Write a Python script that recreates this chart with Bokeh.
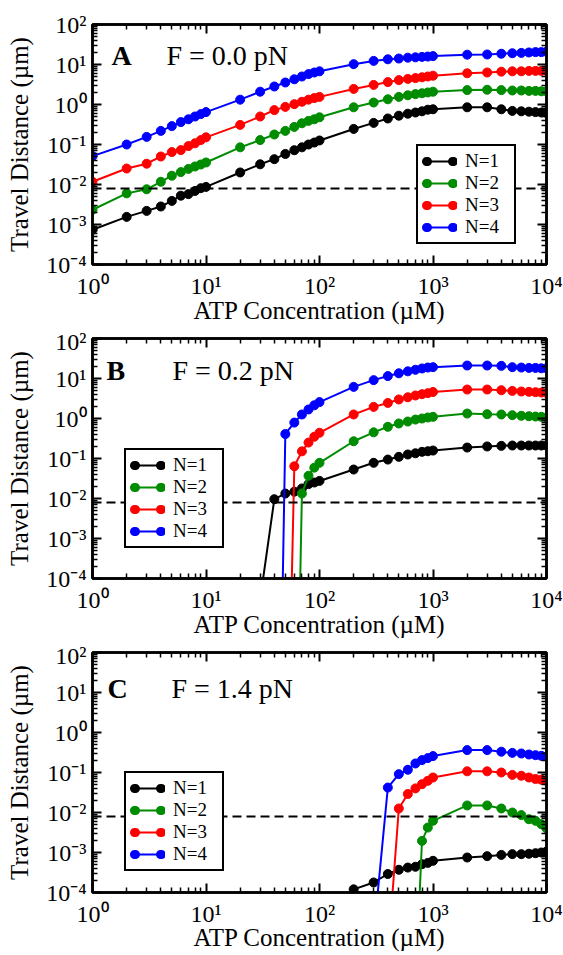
from bokeh.plotting import figure
from bokeh.models import LogAxis, FixedTicker, Span, Label, Legend, LegendItem, Range1d
from bokeh.layouts import column
from bokeh.embed import file_html
from bokeh.resources import INLINE

# ATP concentrations (uM)
ATP = [1, 2, 3, 4, 5, 6, 7, 8, 9, 10,
       20, 30, 40, 50, 60, 70, 80, 90, 100,
       200, 300, 400, 500, 600, 700, 800, 900, 1000,
       2000, 3000, 4000, 5000, 6000, 7000, 8000, 9000, 10000]

SERIES_LABELS = ["N=1", "N=2", "N=3", "N=4"]
SERIES_COLORS = ["#000000", "#008c00", "#ff0000", "#0000ff"]

# Panel A, F = 0.0 pN (travel distance, um)
A_N1 = [7.4e-4, 1.55e-3, 2.19e-3, 2.82e-3, 3.89e-3, 5.25e-3, 5.75e-3, 6.9e-3, 8.1e-3, 8.7e-3,
        0.020, 0.032, 0.043, 0.058, 0.072, 0.085, 0.100, 0.112, 0.126,
        0.245, 0.347, 0.447, 0.525, 0.589, 0.631, 0.676, 0.741, 0.759,
        0.851, 0.851, 0.759, 0.692, 0.676, 0.661, 0.646, 0.631, 0.617]
A_N2 = [2.34e-3, 6.0e-3, 7.6e-3, 0.0117, 0.0166, 0.0204, 0.0245, 0.0282, 0.0316, 0.0355,
        0.085, 0.129, 0.178, 0.219, 0.275, 0.339, 0.389, 0.427, 0.479,
        0.851, 1.12, 1.35, 1.55, 1.70, 1.82, 1.91, 2.00, 2.09,
        2.29, 2.34, 2.29, 2.24, 2.24, 2.19, 2.19, 2.14, 2.14]
A_N3 = [0.0117, 0.0251, 0.0331, 0.0501, 0.0646, 0.0724, 0.0912, 0.107, 0.129, 0.151,
        0.309, 0.501, 0.724, 0.871, 1.02, 1.17, 1.32, 1.45, 1.55,
        2.45, 3.09, 3.63, 4.07, 4.37, 4.57, 4.79, 5.01, 5.25,
        6.03, 6.31, 6.61, 6.76, 6.76, 6.92, 6.92, 6.92, 6.92]
A_N4 = [0.0513, 0.100, 0.155, 0.219, 0.288, 0.363, 0.427, 0.501, 0.575, 0.646,
        1.32, 2.09, 2.82, 3.55, 4.27, 5.01, 5.75, 6.31, 6.76,
        10.2, 12.3, 13.5, 14.1, 14.8, 15.1, 15.5, 15.8, 16.2,
        17.6, 17.8, 18.6, 19.1, 19.5, 20.0, 20.4, 20.4, 20.9]
A_START = [1, 1, 1, 1]

# Panel B, F = 0.2 pN (first value of each series lies below the axis)
B_N1 = [3e-5, 0.0096, 0.0133, 0.0148, 0.0178, 0.0229, 0.0251, 0.0275,
        0.053, 0.078, 0.094, 0.110, 0.126, 0.135, 0.147, 0.152, 0.158,
        0.188, 0.200, 0.207, 0.211, 0.211, 0.211, 0.211, 0.211, 0.211]
B_N2 = [3e-12, 0.0133, 0.037, 0.059, 0.078,
        0.27, 0.45, 0.62, 0.75, 0.84, 0.94, 1.00, 1.06, 1.10,
        1.33, 1.28, 1.26, 1.21, 1.17, 1.14, 1.12, 1.10, 1.06]
B_N3 = [6e-12, 0.064, 0.151, 0.25, 0.35, 0.44,
        1.26, 1.95, 2.45, 2.99, 3.39, 3.76, 4.06, 4.30, 4.60,
        5.30, 5.30, 5.10, 4.90, 4.73, 4.64, 4.55, 4.46, 4.37]
B_N4 = [1e-16, 0.41, 0.79, 1.26, 1.68, 2.14, 2.57,
        6.17, 9.1, 11.5, 13.5, 15.1, 16.5, 17.8, 18.8, 19.2,
        21.1, 21.1, 20.7, 19.2, 18.8, 18.4, 18.4, 18.0, 18.0]
B_START = [30, 60, 50, 40]

# Panel C, F = 1.4 pN
C_N1 = [1.2e-4, 1.78e-4, 2.9e-4, 3.7e-4, 4.2e-4, 4.4e-4, 5.1e-4, 5.5e-4, 6.2e-4,
        7.5e-4, 8.1e-4, 8.7e-4, 9.1e-4, 9.1e-4, 9.3e-4, 9.6e-4, 1.0e-3, 1.06e-3]
C_N2 = [4e-7, 0.00195, 0.0042, 0.0062,
        0.015, 0.015, 0.0126, 0.0100, 0.0086, 0.0068, 0.0062, 0.0051, 0.0040]
C_N3 = [2.6e-6, 0.0126, 0.029, 0.040, 0.051, 0.062, 0.075,
        0.107, 0.107, 0.100, 0.087, 0.083, 0.075, 0.069, 0.066, 0.062]
C_N4 = [8.5e-6, 0.042, 0.091, 0.117, 0.168, 0.204, 0.229, 0.257,
        0.363, 0.363, 0.331, 0.309, 0.299, 0.282, 0.271, 0.261, 0.251]
C_START = [200, 700, 400, 300]

STEP_SIZE = 0.008  # dashed reference line (um)

X_TICKS = [1, 10, 100, 1000, 10000]
X_TICK_LABELS = ["10⁰", "10¹", "10²", "10³", "10⁴"]
Y_TICKS = [1e-4, 1e-3, 1e-2, 1e-1, 1.0, 10.0, 100.0]
Y_TICK_LABELS = ["10⁻⁴", "10⁻³", "10⁻²", "10⁻¹", "10⁰", "10¹", "10²"]
MINOR_MULT = [2, 3, 4, 5, 6, 7, 8, 9]

X_TITLE = "ATP Concentration (µM)"
Y_TITLE = "Travel Distance (µm)"
PANEL_LETTERS = ["A", "B", "C"]
PANEL_FORCES = ["F = 0.0 pN", "F = 0.2 pN", "F = 1.4 pN"]

FONT = "Liberation Serif"
FRAME_W, FRAME_H = 454, 240


def style_axis(ax, show_labels):
    ax.axis_line_width = 2.5
    ax.major_tick_in = 9
    ax.major_tick_out = 0
    ax.minor_tick_in = 5
    ax.minor_tick_out = 0
    ax.major_tick_line_width = 2
    ax.minor_tick_line_width = 1.5
    if show_labels:
        ax.major_label_text_font = FONT
        ax.major_label_text_font_size = "24px"
        ax.major_label_text_color = "black"
        ax.axis_label_text_font = FONT
        ax.axis_label_text_font_size = "25px"
        ax.axis_label_text_font_style = "normal"
        ax.axis_label_text_color = "black"
    else:
        ax.major_label_text_font_size = "1px"
        ax.major_label_text_alpha = 0
        ax.major_label_standoff = 0


def make_panel(idx, ys, starts, legend_xy, title_pos, xlabel_standoff, top, bottom):
    p = figure(x_axis_type="log", y_axis_type="log",
               x_range=Range1d(1, 1e4), y_range=Range1d(1e-4, 1e2),
               frame_width=FRAME_W, frame_height=FRAME_H,
               min_border_left=92, min_border_right=17,
               min_border_top=top, min_border_bottom=bottom,
               output_backend="svg", toolbar_location=None)
    p.grid.visible = False
    p.outline_line_color = "black"
    p.outline_line_width = 2.5

    x_minor = [m * t for t in X_TICKS[:-1] for m in MINOR_MULT]
    y_minor = [m * t for t in Y_TICKS[:-1] for m in MINOR_MULT]

    p.xaxis.ticker = FixedTicker(ticks=X_TICKS, minor_ticks=x_minor)
    p.yaxis.ticker = FixedTicker(ticks=Y_TICKS, minor_ticks=y_minor)
    p.xaxis.major_label_overrides = dict(zip(X_TICKS, X_TICK_LABELS))
    p.yaxis.major_label_overrides = dict(zip(Y_TICKS, Y_TICK_LABELS))
    p.xaxis.axis_label = X_TITLE
    p.yaxis.axis_label = Y_TITLE
    style_axis(p.xaxis[0], True)
    style_axis(p.yaxis[0], True)
    p.xaxis.major_label_standoff = 8
    p.xaxis.axis_label_standoff = xlabel_standoff
    p.yaxis.major_label_standoff = 6
    p.yaxis.axis_label_standoff = 10

    top_ax = LogAxis(ticker=FixedTicker(ticks=X_TICKS, minor_ticks=x_minor))
    right_ax = LogAxis(ticker=FixedTicker(ticks=Y_TICKS, minor_ticks=y_minor))
    style_axis(top_ax, False)
    style_axis(right_ax, False)
    p.add_layout(top_ax, "above")
    p.add_layout(right_ax, "right")

    p.add_layout(Span(location=STEP_SIZE, dimension="width", line_color="black",
                      line_width=2, line_dash="9 5"))

    items = []
    for k in range(4):
        xs = [a for a in ATP if a >= starts[k]]
        c = SERIES_COLORS[k]
        ln = p.line(xs, ys[k], line_color=c, line_width=2)
        p.scatter(xs, ys[k], size=9, fill_color=c, line_color=c)
        dots = p.line(xs, ys[k], line_color=c, line_width=9, line_cap="round",
                      line_dash="1 25", line_dash_offset=22, visible=False)
        items.append(LegendItem(label=SERIES_LABELS[k], renderers=[ln, dots]))

    legend = Legend(items=items, location=legend_xy,
                    glyph_width=35, glyph_height=20, label_height=20,
                    label_width=45, label_standoff=8, padding=4, spacing=0,
                    margin=0, border_line_color="black", border_line_width=2.5,
                    border_line_alpha=1,
                    label_text_font=FONT, label_text_font_size="19px",
                    label_text_line_height=1.15,
                    label_text_color="black",
                    background_fill_color="white", background_fill_alpha=1)
    p.add_layout(legend)

    lx, fx, ty = title_pos
    p.add_layout(Label(x=lx, y=ty, x_units="screen", y_units="screen",
                       text=PANEL_LETTERS[idx], text_font=FONT, text_font_size="28px",
                       text_font_style="bold", text_color="black",
                       text_baseline="alphabetic"))
    p.add_layout(Label(x=fx, y=ty, x_units="screen", y_units="screen",
                       text=PANEL_FORCES[idx], text_font=FONT, text_font_size="28px",
                       text_color="black", text_baseline="alphabetic"))
    return p


pA = make_panel(0, [A_N1, A_N2, A_N3, A_N4], A_START, (324, 20), (19, 74, 209), -5, 24, 64)
pB = make_panel(1, [B_N1, B_N2, B_N3, B_N4], B_START, (32, 30), (14, 80, 208), -5, 10, 64)
pC = make_panel(2, [C_N1, C_N2, C_N3, C_N4], C_START, (32, 21), (15, 79, 204), -6, 10, 63)

layout = column(pA, pB, pC, spacing=0)
open("out.html", "w").write(file_html(layout, INLINE))
